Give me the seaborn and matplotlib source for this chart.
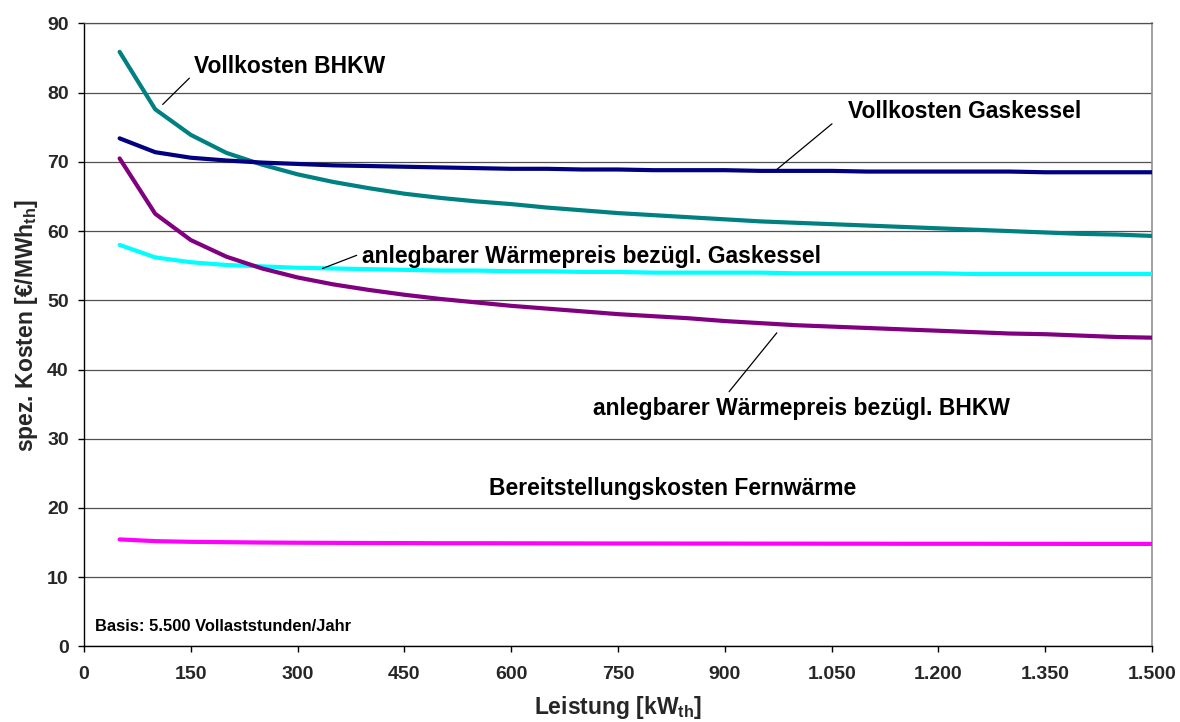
import matplotlib
matplotlib.use("Agg")
import matplotlib.pyplot as plt
from matplotlib.ticker import FixedLocator, FixedFormatter
import pandas as pd
import seaborn as sns

# Thermal output [kW_th]
leistung = [50, 100, 150, 200, 250, 300, 350, 400, 450, 500,
            550, 600, 650, 700, 750, 800, 850, 900, 950, 1000,
            1050, 1100, 1150, 1200, 1250, 1300, 1350, 1400, 1450, 1500]

# Specific costs [EUR/MWh_th]
vollkosten_bhkw = [85.9, 77.6, 73.9, 71.3, 69.6, 68.2, 67.1, 66.2, 65.4, 64.8,
                   64.3, 63.9, 63.4, 63.0, 62.6, 62.3, 62.0, 61.7, 61.4, 61.2,
                   61.0, 60.8, 60.6, 60.4, 60.2, 60.0, 59.8, 59.6, 59.5, 59.3]
vollkosten_gaskessel = [73.4, 71.4, 70.6, 70.2, 69.9, 69.7, 69.5, 69.4, 69.3, 69.2,
                        69.1, 69.0, 69.0, 68.9, 68.9, 68.8, 68.8, 68.8, 68.7, 68.7,
                        68.7, 68.6, 68.6, 68.6, 68.6, 68.6, 68.5, 68.5, 68.5, 68.5]
preis_gaskessel = [58.0, 56.2, 55.5, 55.1, 54.9, 54.7, 54.6, 54.5, 54.4, 54.3,
                   54.3, 54.2, 54.2, 54.1, 54.1, 54.0, 54.0, 54.0, 54.0, 53.9,
                   53.9, 53.9, 53.9, 53.9, 53.8, 53.8, 53.8, 53.8, 53.8, 53.8]
preis_bhkw = [70.5, 62.5, 58.7, 56.3, 54.6, 53.3, 52.3, 51.5, 50.8, 50.2,
              49.7, 49.2, 48.8, 48.4, 48.0, 47.7, 47.4, 47.0, 46.7, 46.4,
              46.2, 46.0, 45.8, 45.6, 45.4, 45.2, 45.1, 44.9, 44.7, 44.6]
fernwaerme = [15.45, 15.2, 15.1, 15.05, 15.0, 14.97, 14.95, 14.93, 14.92, 14.9,
              14.9, 14.89, 14.88, 14.87, 14.86, 14.86, 14.85, 14.85, 14.84, 14.84,
              14.83, 14.83, 14.82, 14.82, 14.82, 14.81, 14.81, 14.8, 14.8, 14.8]

series_names = ["Vollkosten BHKW", "Vollkosten Gaskessel",
                "anlegbarer Wärmepreis bezügl. Gaskessel",
                "anlegbarer Wärmepreis bezügl. BHKW",
                "Bereitstellungskosten Fernwärme"]
series_values = [vollkosten_bhkw, vollkosten_gaskessel, preis_gaskessel,
                 preis_bhkw, fernwaerme]
series_colors = ["#008080", "#000080", "#00FFFF", "#800080", "#FF00FF"]

x_ticks = [0, 150, 300, 450, 600, 750, 900, 1050, 1200, 1350, 1500]
x_tick_labels = ["0", "150", "300", "450", "600", "750", "900",
                 "1.050", "1.200", "1.350", "1.500"]
y_ticks = [0, 10, 20, 30, 40, 50, 60, 70, 80, 90]

df = pd.concat(
    [pd.DataFrame({"Leistung": leistung, "Kosten": vals, "Reihe": name})
     for name, vals in zip(series_names, series_values)],
    ignore_index=True)

sns.set_theme(style="white")
plt.rcParams["font.family"] = ["Liberation Sans", "DejaVu Sans"]
plt.rcParams["font.weight"] = "bold"
plt.rcParams["mathtext.fontset"] = "custom"
plt.rcParams["mathtext.rm"] = "Liberation Sans:bold"
plt.rcParams["mathtext.it"] = "Liberation Sans:bold"
plt.rcParams["mathtext.bf"] = "Liberation Sans:bold"
plt.rcParams["mathtext.default"] = "rm"

fig = plt.figure(figsize=(11.8, 7.22), dpi=100)
ax = fig.add_axes([0.0712, 0.1048, 0.9051, 0.8627])

sns.lineplot(data=df, x="Leistung", y="Kosten", hue="Reihe",
             hue_order=series_names,
             palette=dict(zip(series_names, series_colors)),
             linewidth=3.0, legend=False, sort=False, ax=ax, zorder=3)
for line in ax.get_lines():
    line.set_solid_capstyle("round")
    line.set_solid_joinstyle("round")

ax.set_xlim(0, 1500)
ax.set_ylim(0, 90)
ax.xaxis.set_major_locator(FixedLocator(x_ticks))
ax.xaxis.set_major_formatter(FixedFormatter(x_tick_labels))
ax.yaxis.set_major_locator(FixedLocator(y_ticks))

ax.grid(axis="y", color="#505050", linewidth=0.9)
ax.grid(axis="x", visible=False)
ax.set_axisbelow(True)

for side in ("left", "bottom"):
    ax.spines[side].set_color("black")
    ax.spines[side].set_linewidth(1.0)
ax.spines["right"].set_color("#909090")
ax.spines["right"].set_linewidth(1.2)
ax.spines["top"].set_color("#505050")
ax.spines["top"].set_linewidth(0.9)

ax.tick_params(axis="both", which="major", direction="out", length=4,
               width=1, color="black", labelsize=14,
               bottom=True, left=True)
ax.tick_params(axis="x", pad=10)
ax.tick_params(axis="y", pad=7)
for lab in ax.get_xticklabels() + ax.get_yticklabels():
    lab.set_fontweight("bold")

ax.set_xlabel("Leistung [kW$_{\\mathrm{th}}$]", fontsize=16.5, fontweight="bold")
ax.set_ylabel("spez. Kosten [€/MWh$_{\\mathrm{th}}$]", fontsize=16.5,
              fontweight="bold")
ax.xaxis.set_label_coords(0.5, -0.076)
ax.yaxis.set_label_coords(-0.041, 0.515)

# Series labels with thin leader lines
label_kw = dict(fontsize=16.5, fontweight="bold", color="black", va="center")
leader_kw = dict(arrowstyle="-", color="black", lw=0.9,
                 shrinkA=0, shrinkB=0)

ax.text(154, 83.8, "Vollkosten BHKW", ha="left", **label_kw)
ax.annotate("", xy=(110.5, 78.3), xytext=(148, 82.1), arrowprops=leader_kw)

ax.text(1073, 77.3, "Vollkosten Gaskessel", ha="left", **label_kw)
ax.annotate("", xy=(973, 68.9), xytext=(1050.5, 75.5), arrowprops=leader_kw)

ax.text(391, 56.4, "anlegbarer Wärmepreis bezügl. Gaskessel", ha="left", **label_kw)
ax.annotate("", xy=(335, 54.6), xytext=(383, 56.5), arrowprops=leader_kw)

ax.text(1007, 34.4, "anlegbarer Wärmepreis bezügl. BHKW", ha="center", **label_kw)
ax.annotate("", xy=(973, 45.3), xytext=(906, 36.8), arrowprops=leader_kw)

ax.text(827, 22.8, "Bereitstellungskosten Fernwärme", ha="center", **label_kw)

ax.text(15.5, 2.9, "Basis: 5.500 Vollaststunden/Jahr", ha="left", va="center",
        fontsize=11.9, fontweight="bold", color="black")

fig.savefig("out.png", dpi=100, facecolor="white")
